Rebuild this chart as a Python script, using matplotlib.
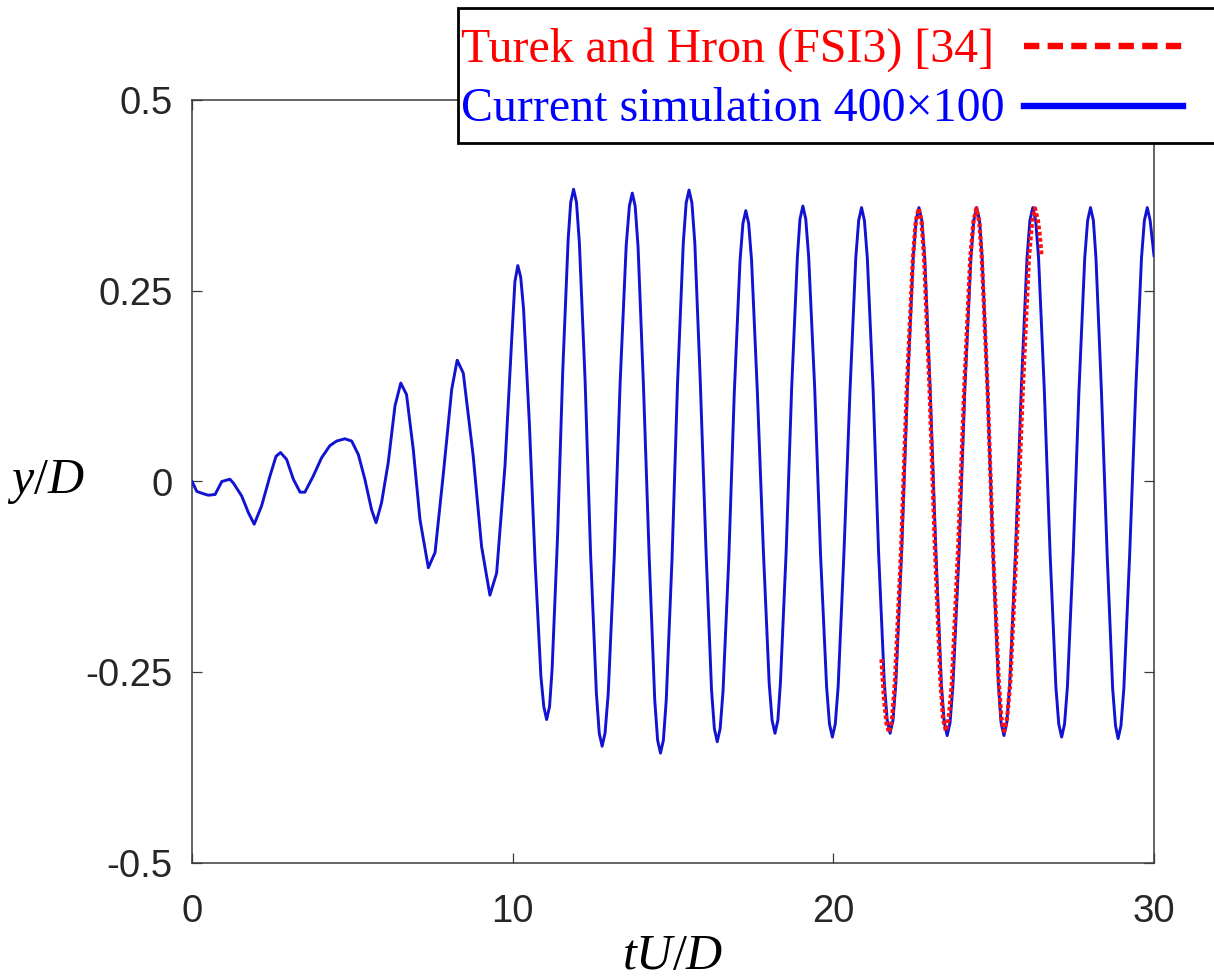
import matplotlib
matplotlib.use("Agg")
import matplotlib.pyplot as plt
from matplotlib.lines import Line2D
from matplotlib.patches import Rectangle

# ---------------- data ----------------
t_current = [
    0.00, 0.15, 0.35, 0.51, 0.72, 0.93, 1.18, 1.29, 1.55, 1.76, 1.94, 2.17, 2.43, 2.62, 2.76,
    2.95, 3.16, 3.37, 3.52, 3.78, 4.04, 4.30, 4.51, 4.77, 4.98, 5.19, 5.39, 5.60, 5.74, 5.91,
    6.12, 6.33, 6.51, 6.69, 6.90, 7.11, 7.37, 7.58, 7.84, 8.10, 8.27, 8.46, 8.77, 9.03, 9.29,
    9.50, 9.76, 9.97,
    10.07, 10.16, 10.25, 10.34, 10.52, 10.70, 10.88,
    10.97, 11.06, 11.15, 11.23, 11.40, 11.56, 11.73,
    11.81, 11.90, 11.99, 12.08, 12.26, 12.43, 12.61,
    12.70, 12.79, 12.88, 12.98, 13.17, 13.35, 13.54,
    13.64, 13.73, 13.82, 13.91, 14.08, 14.26, 14.43,
    14.52, 14.61, 14.70, 14.79, 14.97, 15.14, 15.32,
    15.41, 15.50, 15.59, 15.68, 15.85, 16.03, 16.20,
    16.29, 16.38, 16.47, 16.56, 16.74, 16.91, 17.09,
    17.18, 17.27, 17.36, 17.45, 17.63, 17.82, 18.00,
    18.09, 18.18, 18.27, 18.35, 18.53, 18.70, 18.88,
    18.96, 19.05, 19.14, 19.23, 19.42, 19.60, 19.79,
    19.88, 19.97, 20.06, 20.15, 20.33, 20.52, 20.70,
    20.79, 20.88, 20.97, 21.06, 21.24, 21.41, 21.59,
    21.68, 21.77, 21.86, 21.95, 22.13, 22.31, 22.49,
    22.58, 22.67, 22.76, 22.85, 23.02, 23.20, 23.37,
    23.46, 23.55, 23.64, 23.73, 23.92, 24.10, 24.29,
    24.38, 24.47, 24.56, 24.64, 24.81, 24.98, 25.15,
    25.23, 25.32, 25.41, 25.50, 25.68, 25.86, 26.04,
    26.13, 26.22, 26.31, 26.40, 26.58, 26.76, 26.94,
    27.03, 27.12, 27.21, 27.30, 27.48, 27.66, 27.84,
    27.93, 28.02, 28.11, 28.19, 28.36, 28.54, 28.71,
    28.80, 28.88, 28.97, 29.06, 29.24, 29.43, 29.61,
    29.70, 29.79, 29.88, 30.00,
]
y_current = [
    0.000, -0.013, -0.016, -0.018, -0.017, 0.000, 0.003, -0.002, -0.019, -0.041, -0.056, -0.032, 0.007, 0.033, 0.038,
    0.029, 0.003, -0.014, -0.014, 0.007, 0.031, 0.047, 0.053, 0.056, 0.053, 0.035, 0.003, -0.037, -0.054, -0.028,
    0.025, 0.099, 0.129, 0.114, 0.042, -0.050, -0.113, -0.093, 0.011, 0.121, 0.159, 0.142, 0.033, -0.085, -0.149,
    -0.120, 0.020, 0.186,
    0.262, 0.283, 0.268, 0.226, 0.077, -0.106, -0.255,
    -0.295, -0.312, -0.295, -0.246, -0.072, 0.143, 0.317,
    0.366, 0.383, 0.366, 0.313, 0.131, -0.095, -0.277,
    -0.330, -0.347, -0.330, -0.278, -0.097, 0.128, 0.309,
    0.361, 0.378, 0.361, 0.308, 0.124, -0.102, -0.286,
    -0.339, -0.356, -0.339, -0.286, -0.101, 0.127, 0.312,
    0.365, 0.382, 0.365, 0.313, 0.132, -0.091, -0.272,
    -0.324, -0.341, -0.324, -0.275, -0.101, 0.115, 0.289,
    0.338, 0.355, 0.338, 0.290, 0.118, -0.093, -0.265,
    -0.313, -0.330, -0.313, -0.264, -0.091, 0.122, 0.295,
    0.344, 0.361, 0.344, 0.295, 0.121, -0.095, -0.269,
    -0.318, -0.335, -0.318, -0.269, -0.095, 0.119, 0.293,
    0.342, 0.359, 0.342, 0.293, 0.121, -0.092, -0.264,
    -0.313, -0.330, -0.313, -0.264, -0.092, 0.121, 0.293,
    0.342, 0.359, 0.342, 0.293, 0.120, -0.094, -0.267,
    -0.316, -0.333, -0.316, -0.267, -0.094, 0.120, 0.293,
    0.342, 0.359, 0.342, 0.293, 0.120, -0.094, -0.267,
    -0.316, -0.333, -0.316, -0.267, -0.094, 0.120, 0.293,
    0.342, 0.359, 0.342, 0.293, 0.119, -0.095, -0.269,
    -0.318, -0.335, -0.318, -0.269, -0.095, 0.119, 0.293,
    0.342, 0.359, 0.342, 0.293, 0.119, -0.097, -0.271,
    -0.320, -0.337, -0.320, -0.271, -0.097, 0.119, 0.293,
    0.342, 0.359, 0.342, 0.296,
]

t_turek = [
    21.50, 21.58, 21.66, 21.74, 21.83, 21.92, 22.11, 22.29, 22.48,
    22.57, 22.66, 22.75, 22.83, 23.00, 23.17, 23.34,
    23.42, 23.51, 23.60, 23.70, 23.89, 24.08, 24.27,
    24.37, 24.46, 24.55, 24.63, 24.81, 24.98, 25.16,
    25.24, 25.33, 25.42, 25.52, 25.71, 25.91, 26.10,
    26.20, 26.29, 26.38, 26.44, 26.49,
]
y_turek = [
    -0.233, -0.285, -0.318, -0.329, -0.312, -0.263, -0.092, 0.121, 0.292,
    0.341, 0.358, 0.341, 0.293, 0.121, -0.090, -0.262,
    -0.310, -0.327, -0.310, -0.262, -0.090, 0.121, 0.293,
    0.341, 0.358, 0.341, 0.293, 0.121, -0.090, -0.262,
    -0.310, -0.327, -0.310, -0.262, -0.090, 0.121, 0.293,
    0.341, 0.358, 0.342, 0.322, 0.297,
]

x_ticks = [0, 10, 20, 30]
y_ticks = [-0.5, -0.25, 0, 0.25, 0.5]
y_ticklabels = ["-0.5", "-0.25", "0", "0.25", "0.5"]
label_turek = "Turek and Hron (FSI3) [34]"
label_current = "Current simulation 400\u00d7100"

# ---------------- styling ----------------
plt.rcParams["mathtext.fontset"] = "custom"
plt.rcParams["mathtext.rm"] = "Liberation Serif"
plt.rcParams["mathtext.it"] = "Liberation Serif:italic"
plt.rcParams["mathtext.bf"] = "Liberation Serif:bold"

W, H = 1214, 980
fig = plt.figure(figsize=(W / 100, H / 100), dpi=100)
ax = fig.add_axes([192 / W, 117 / H, 962 / W, 763 / H])

blue_line = "#1212d2"
red_line = "#ff1010"
ax.plot(t_current, y_current, color=blue_line, lw=2.1, zorder=3)
ax.plot(t_turek, y_turek, color=red_line, lw=3.0, linestyle=(0, (0.9, 0.6)),
        dash_capstyle="butt", zorder=4)

ax.set_xlim(0, 30)
ax.set_ylim(-0.5, 0.5)
ax.set_xticks(x_ticks)
ax.set_xticklabels([str(v) for v in x_ticks])
ax.set_yticks(y_ticks)
ax.set_yticklabels(y_ticklabels)

spine_col = "#3a3a3a"
for s in ax.spines.values():
    s.set_color(spine_col)
    s.set_linewidth(1.1)

ax.tick_params(axis="both", direction="in", length=7, width=0.9, color=spine_col,
               top=True, right=True, labelsize=27.5, labelcolor="#262626")
ax.tick_params(axis="y", pad=14)
ax.tick_params(axis="x", pad=22)
for lab in ax.get_xticklabels() + ax.get_yticklabels():
    lab.set_fontfamily("Liberation Sans")

ax.set_xlabel(r"$tU/D$", fontsize=36, color="black")
ax.xaxis.set_label_coords(0.5, -0.121)
ax.xaxis.label.set_verticalalignment("center")
ax.set_ylabel(r"$y/D$", fontsize=36, color="black", rotation=0)
ax.yaxis.set_label_coords(-0.152, 0.5)
ax.yaxis.label.set_verticalalignment("center")
ax.yaxis.label.set_horizontalalignment("center")

# ---------------- legend box (drawn in figure pixels) ----------------
def fx(px):
    return px / W

def fy(py):
    return 1 - py / H

box = Rectangle((fx(458), fy(143)), fx(1230) - fx(458), fy(8) - fy(143),
                transform=fig.transFigure, facecolor="white", edgecolor="black",
                linewidth=2.0, zorder=10)
fig.add_artist(box)
fig.text(fx(461), fy(62), label_turek, color="#ff0000", fontsize=34.5,
         family="Liberation Serif", va="baseline", ha="left", zorder=11)
fig.text(fx(461), fy(121), label_current, color="#0000ff", fontsize=34.5,
         family="Liberation Serif", va="baseline", ha="left", zorder=11)
fig.add_artist(Line2D([fx(1024), fx(1183)], [fy(46), fy(46)], transform=fig.transFigure,
                      color="#ff0000", lw=4.6, linestyle=(0, (2.4, 1.3)),
                      dash_capstyle="butt", zorder=11))
fig.add_artist(Line2D([fx(1024), fx(1183)], [fy(106), fy(106)], transform=fig.transFigure,
                      color="#0000ff", lw=4.6, zorder=11))

fig.savefig("out.png", dpi=100)
